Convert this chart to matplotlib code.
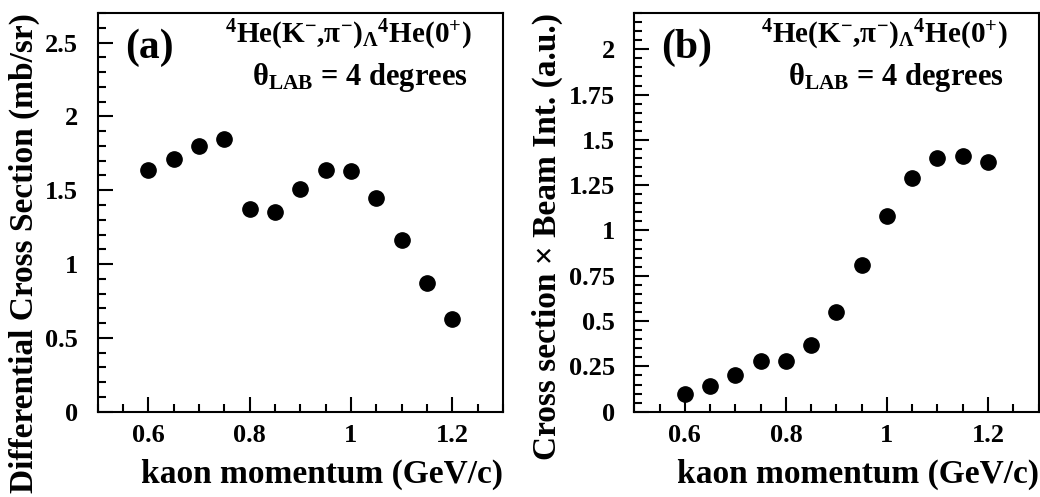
import matplotlib
matplotlib.use('Agg')
import matplotlib.pyplot as plt
from matplotlib.ticker import MultipleLocator, FuncFormatter

# kaon beam momentum (GeV/c)
momentum = [0.60, 0.65, 0.70, 0.75, 0.80, 0.85, 0.90,
            0.95, 1.00, 1.05, 1.10, 1.15, 1.20]
# differential cross section at 4 deg (mb/sr)
dxsec = [1.64, 1.71, 1.80, 1.85, 1.37, 1.35, 1.51,
         1.64, 1.63, 1.45, 1.16, 0.87, 0.63]
# cross section x beam intensity (a.u.)
xsec_beam = [0.10, 0.14, 0.20, 0.28, 0.28, 0.37, 0.55,
             0.81, 1.08, 1.29, 1.40, 1.41, 1.38]

plt.rcParams['font.family'] = ['Liberation Serif', 'DejaVu Serif']
plt.rcParams['font.weight'] = 'bold'
plt.rcParams['axes.labelweight'] = 'bold'
plt.rcParams['mathtext.fontset'] = 'custom'
plt.rcParams['mathtext.rm'] = 'Liberation Serif:bold'
plt.rcParams['mathtext.bf'] = 'Liberation Serif:bold'
plt.rcParams['mathtext.it'] = 'Liberation Serif:bold'
plt.rcParams['mathtext.default'] = 'bf'

reaction = r'$^{4}$He(K$^{-}$,π$^{-}$)$_{Λ}$$^{4}$He(0$^{+}$)'
angle = r'θ$_{LAB}$ = 4 degrees'

fig = plt.figure(figsize=(10.4, 4.97), dpi=100)
ax1 = fig.add_axes([0.0939, 0.1716, 0.3897, 0.8022])
ax2 = fig.add_axes([0.6099, 0.1716, 0.3887, 0.8022])

fmt = FuncFormatter(lambda v, p: f'{v:g}')


def style(ax, ymax, ymajor, yminor):
    ax.set_xlim(0.5, 1.3)
    ax.set_ylim(0, ymax)
    ax.xaxis.set_major_locator(MultipleLocator(0.2))
    ax.xaxis.set_minor_locator(MultipleLocator(0.05))
    ax.yaxis.set_major_locator(MultipleLocator(ymajor))
    ax.yaxis.set_minor_locator(MultipleLocator(yminor))
    ax.xaxis.set_major_formatter(fmt)
    ax.yaxis.set_major_formatter(fmt)
    ax.tick_params(which='both', direction='in', top=False, right=False,
                   width=1.5, labelsize=19)
    ax.tick_params(which='major', length=11)
    ax.tick_params(which='minor', length=5.5)
    ax.tick_params(axis='y', pad=14)
    ax.tick_params(axis='x', pad=9)
    for s in ax.spines.values():
        s.set_linewidth(1.5)
    ax.set_xlabel('kaon momentum (GeV/c)', fontsize=24, loc='right',
                  labelpad=8)


style(ax1, 2.7, 0.5, 0.1)
style(ax2, 2.2, 0.25, 0.05)

ax1.plot(momentum, dxsec, 'o', color='black', markersize=11)
ax2.plot(momentum, xsec_beam, 'o', color='black', markersize=11)

ax1.set_ylabel('Differential Cross Section (mb/sr)', fontsize=24,
               loc='top', labelpad=4)
ax2.set_ylabel('Cross section × Beam Int. (a.u.)', fontsize=24,
               loc='top', labelpad=4)

for ax, tag in ((ax1, '(a)'), (ax2, '(b)')):
    ax.text(0.067, 0.912, tag, transform=ax.transAxes, fontsize=30,
            ha='left', va='center')
    ax.text(0.924, 0.924, reaction, transform=ax.transAxes, fontsize=21,
            ha='right', va='baseline')
    ax.text(0.914, 0.819, angle, transform=ax.transAxes, fontsize=22,
            ha='right', va='baseline')

fig.savefig('out.png', dpi=100)
